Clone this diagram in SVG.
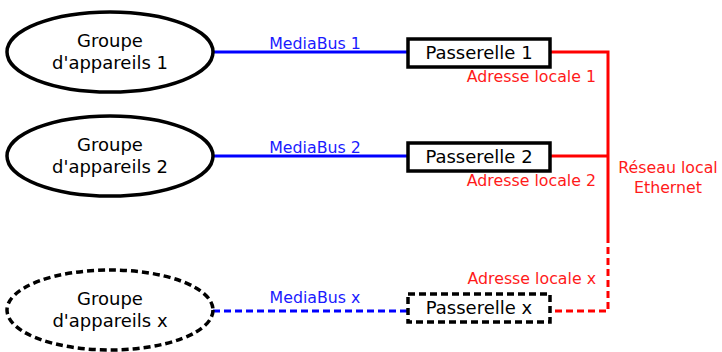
<svg xmlns="http://www.w3.org/2000/svg" width="722" height="352" viewBox="0 0 722 352">
<style>
text{font-family:"DejaVu Sans",Verdana,sans-serif}
.node{fill:#fff;stroke:#000;stroke-width:3.5}
.dash{stroke-dasharray:7,4}
.nt{font-size:18px;fill:#000;text-anchor:middle}
.bl{stroke:#0000ff;stroke-width:3;fill:none}
.rd{stroke:#ff0000;stroke-width:3;fill:none}
.bt{font-size:15.8px;fill:#1a1aff;text-anchor:middle}
.rt{font-size:15.8px;fill:#ff1a1a}
</style>
<rect width="722" height="352" fill="#fff"/>
<g id="connectors">
<line class="bl" x1="213" y1="52" x2="408" y2="52"/>
<line class="bl" x1="213" y1="156" x2="408" y2="156"/>
<line class="bl dash" x1="213" y1="311" x2="408" y2="311"/>
<polyline class="rd" points="550,52 608,52 608,236"/>
<line class="rd" x1="550" y1="156" x2="608" y2="156"/>
<polyline class="rd dash" points="608,236 608,311 550,311"/>
<text class="bt" x="315" y="49">MediaBus 1</text>
<text class="bt" x="315" y="153">MediaBus 2</text>
<text class="bt" x="315" y="303">MediaBus x</text>
<text class="rt" x="596" y="82" text-anchor="end">Adresse locale 1</text>
<text class="rt" x="596" y="186" text-anchor="end">Adresse locale 2</text>
<text class="rt" x="596" y="284" text-anchor="end">Adresse locale x</text>
<text class="rt" x="668" y="173" text-anchor="middle">Réseau local</text>
<text class="rt" x="668" y="193" text-anchor="middle">Ethernet</text>
</g>
<g id="groupe1">
<ellipse class="node" cx="110" cy="52" rx="103" ry="40"/>
<text class="nt" x="110" y="47">Groupe</text>
<text class="nt" x="110" y="69">d'appareils 1</text>
</g>
<g id="groupe2">
<ellipse class="node" cx="110" cy="156" rx="103" ry="40"/>
<text class="nt" x="110" y="151">Groupe</text>
<text class="nt" x="110" y="173">d'appareils 2</text>
</g>
<g id="groupex">
<ellipse class="node dash" cx="110" cy="310" rx="103" ry="40"/>
<text class="nt" x="110" y="305">Groupe</text>
<text class="nt" x="110" y="327">d'appareils x</text>
</g>
<g id="passerelle1">
<rect class="node" x="408" y="39" width="142" height="28"/>
<text class="nt" x="479" y="59">Passerelle 1</text>
</g>
<g id="passerelle2">
<rect class="node" x="408" y="143" width="142" height="28"/>
<text class="nt" x="479" y="163">Passerelle 2</text>
</g>
<g id="passerellex">
<rect class="node dash" x="408" y="294" width="142" height="28"/>
<text class="nt" x="479" y="314">Passerelle x</text>
</g>
</svg>
